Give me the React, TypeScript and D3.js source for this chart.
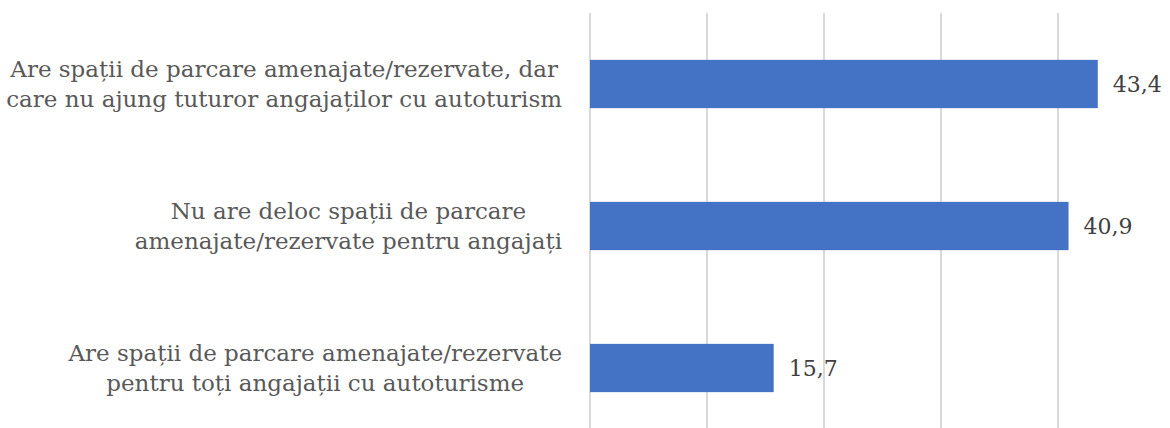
import React, { useEffect, useRef } from "react";
import * as d3 from "d3";

const categories = [
  "Are spații de parcare amenajate/rezervate, dar\ncare nu ajung tuturor angajaților cu autoturism",
  "Nu are deloc spații de parcare\namenajate/rezervate pentru angajați",
  "Are spații de parcare amenajate/rezervate\npentru toți angajații cu autoturisme",
];
const values = [43.4, 40.9, 15.7];
const xTicks = [0, 10, 20, 30, 40, 50];

const W = 1170;
const H = 428;
const FONT = "'DejaVu Serif', Georgia, serif";
const TEXT = "#595959";

export default function App() {
  const ref = useRef<SVGSVGElement>(null);
  useEffect(() => {
    const svg = d3.select(ref.current);
    svg.selectAll("*").remove();
    const x = d3.scaleLinear().domain([0, 50]).range([590, 1175]);
    const y = d3
      .scaleBand<string>()
      .domain(categories)
      .range([13, 439])
      .paddingInner(0.66)
      .paddingOuter(0.33);

    svg
      .append("g")
      .selectAll("line")
      .data(xTicks)
      .join("line")
      .attr("x1", (d) => x(d))
      .attr("x2", (d) => x(d))
      .attr("y1", 13)
      .attr("y2", 439)
      .attr("stroke", "#d9d9d9")
      .attr("stroke-width", 2);

    svg
      .append("g")
      .selectAll("rect")
      .data(values)
      .join("rect")
      .attr("x", x(0))
      .attr("y", (_, i) => y(categories[i])!)
      .attr("width", (d) => x(d) - x(0))
      .attr("height", y.bandwidth())
      .attr("fill", "#4472C4");

    svg
      .append("g")
      .selectAll("text")
      .data(values)
      .join("text")
      .attr("x", (d) => x(d) + 15)
      .attr("y", (_, i) => y(categories[i])! + y.bandwidth() / 2)
      .attr("dy", "0.35em")
      .attr("font-family", FONT)
      .attr("font-size", 22)
      .attr("fill", "#404040")
      .text((d) => d3.format(".1f")(d).replace(".", ","));

    const right = 562;
    const lineH = 30;
    categories.forEach((c) => {
      const lines = c.split("\n");
      const g = svg.append("g");
      const cy = y(c)! + y.bandwidth() / 2;
      const texts = lines.map((l, i) =>
        g
          .append("text")
          .attr("y", cy + (i - (lines.length - 1) / 2) * lineH)
          .attr("dy", "0.35em")
          .attr("font-family", FONT)
          .attr("font-size", 23)
          .attr("fill", TEXT)
          .attr("text-anchor", "middle")
          .text(l)
      );
      const maxW = d3.max(texts, (t) => (t.node() as SVGTextElement).getComputedTextLength()) || 0;
      texts.forEach((t) => t.attr("x", right - maxW / 2));
    });
  }, []);
  return (
    <svg
      ref={ref}
      width={W}
      height={H}
      style={{ position: "absolute", left: 0, top: 0, background: "#fff" }}
    />
  );
}
